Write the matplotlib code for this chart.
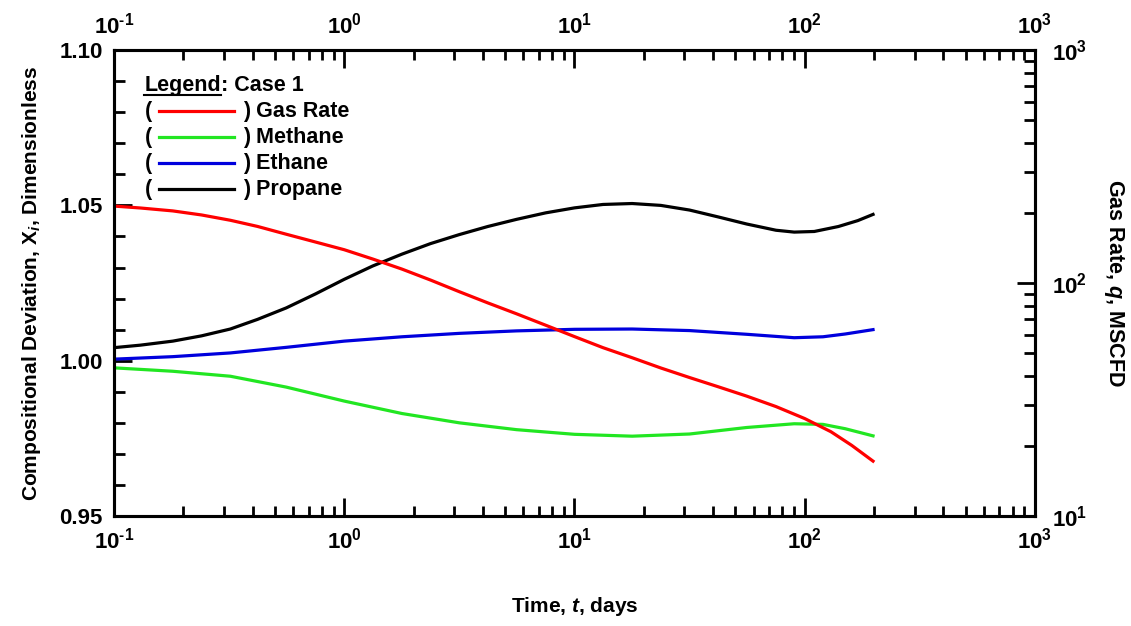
import math
import matplotlib
matplotlib.use("Agg")
import matplotlib.pyplot as plt
from matplotlib.ticker import LogLocator, MultipleLocator, FuncFormatter, NullFormatter
from matplotlib.lines import Line2D

plt.rcParams["font.family"] = ["Liberation Sans", "DejaVu Sans"]
plt.rcParams["font.weight"] = "bold"
plt.rcParams["mathtext.fontset"] = "custom"
plt.rcParams["mathtext.rm"] = "Liberation Sans:bold"
plt.rcParams["mathtext.bf"] = "Liberation Sans:bold"
plt.rcParams["mathtext.it"] = "Liberation Sans:bold:italic"

# gas rate, MSCFD (right axis)
t_rate = [0.1, 0.13, 0.18, 0.24, 0.32, 0.42, 0.56, 0.75, 1.0, 1.33, 1.78, 2.37, 3.16,
          4.2, 5.6, 7.5, 10, 13.3, 17.8, 23.7, 31.6, 42, 56, 75, 100, 130, 160, 198]
q_rate = [214, 210, 204, 196, 186, 175, 162, 150, 139, 126.8, 114.8, 103, 91.8,
          82.2, 73.8, 65.9, 58.9, 52.8, 47.8, 43.2, 39.3, 35.9, 32.7, 29.5, 26.2,
          23.0, 20.1, 17.2]

# compositional deviation (left axis)
t_prop = [0.1, 0.13, 0.18, 0.24, 0.32, 0.42, 0.56, 0.75, 1.0, 1.33, 1.78, 2.37, 3.16,
          4.2, 5.6, 7.5, 10, 13.3, 17.8, 23.7, 31.6, 42, 56, 75, 90, 110, 140, 170, 198]
x_prop = [1.0042, 1.0050, 1.0063, 1.0080, 1.0102, 1.0133, 1.0170, 1.0215, 1.0262,
          1.0305, 1.0343, 1.0377, 1.0406, 1.0432, 1.0455, 1.0476, 1.0492, 1.0503,
          1.0506, 1.0500, 1.0485, 1.0463, 1.0440, 1.0420, 1.0414, 1.0416, 1.0432,
          1.0451, 1.0471]

t_eth = [0.1, 0.18, 0.32, 0.56, 1.0, 1.78, 3.16, 5.6, 10, 17.8, 31.6, 56, 90, 120,
         150, 198]
x_eth = [1.0005, 1.0013, 1.0025, 1.0043, 1.0063, 1.0077, 1.0088, 1.0096, 1.0101,
         1.0102, 1.0097, 1.0085, 1.0074, 1.0077, 1.0086, 1.0100]

t_meth = [0.1, 0.18, 0.32, 0.56, 1.0, 1.78, 3.16, 5.6, 10, 17.8, 31.6, 56, 90, 120,
          150, 198]
x_meth = [0.9977, 0.9966, 0.9950, 0.9915, 0.9870, 0.9830, 0.9800, 0.9778, 0.9763,
          0.9757, 0.9764, 0.9785, 0.9797, 0.9795, 0.9781, 0.9758]

legend_rows = [("Gas Rate", "#ff0000"), ("Methane", "#22e622"),
               ("Ethane", "#0000dd"), ("Propane", "#000000")]

fig = plt.figure(figsize=(11.31, 6.26), dpi=100)
ax = fig.add_axes([0.1008, 0.1757, 0.8143, 0.7443])
ax2 = ax.twinx()

lw = 2.3
ax.plot(t_meth, x_meth, color="#22e622", lw=lw)
ax.plot(t_eth, x_eth, color="#0000dd", lw=lw)
ax.plot(t_prop, x_prop, color="#000000", lw=lw)
ax2.plot(t_rate, q_rate, color="#ff0000", lw=lw)

ax.set_xscale("log")
ax.set_xlim(0.1, 1000)
ax.set_ylim(0.95, 1.10)
ax2.set_yscale("log")
ax2.set_ylim(10, 1000)


def decade(v, pos):
    e = round(math.log10(v))
    return r"$10^{\text{%d}}$" % e


dec = FuncFormatter(decade)
ax.xaxis.set_major_locator(LogLocator(base=10, numticks=10))
ax.xaxis.set_minor_locator(LogLocator(base=10, subs=range(2, 10), numticks=20))
ax.xaxis.set_major_formatter(dec)
ax.xaxis.set_minor_formatter(NullFormatter())
ax.yaxis.set_major_locator(MultipleLocator(0.05))
ax.yaxis.set_minor_locator(MultipleLocator(0.01))
ax.yaxis.set_major_formatter(FuncFormatter(lambda v, p: f"{v:.2f}"))
ax2.yaxis.set_major_locator(LogLocator(base=10, numticks=10))
ax2.yaxis.set_minor_locator(LogLocator(base=10, subs=range(2, 10), numticks=20))
ax2.yaxis.set_major_formatter(dec)
ax2.yaxis.set_minor_formatter(NullFormatter())

for a in (ax, ax2):
    for s in a.spines.values():
        s.set_linewidth(2.2)
ax.tick_params(which="both", direction="in", top=True, labeltop=True, width=2.0,
               labelsize=16, pad=8)
ax.tick_params(which="major", length=13)
ax.tick_params(which="minor", length=7)
ax.tick_params(axis="y", which="minor", length=8)
ax2.tick_params(which="both", direction="in", width=2.0, labelsize=16, pad=12)
ax2.tick_params(which="major", length=13)
ax2.tick_params(which="minor", length=8)

ax.set_xlabel(r"Time, $\mathit{t}$, days", fontsize=15, fontweight="bold", labelpad=30)
ax.set_ylabel(r"Compositional Deviation, X$_{\mathit{i}}$, Dimensionless",
              fontsize=15, fontweight="bold", labelpad=12)
ax2.set_ylabel(r"Gas Rate, $\mathit{q}$, MSCFD", fontsize=15.5, fontweight="bold",
               rotation=270, labelpad=28)

# hand-built legend block
fs = 15.5
x0, y0, dy = 0.033, 0.925, 0.056
hdr = ax.text(x0, y0, "Legend", transform=ax.transAxes, fontsize=fs,
              fontweight="bold", va="center")
fig.canvas.draw()
bb = hdr.get_window_extent().transformed(ax.transAxes.inverted())
ax.text(bb.x1, y0, ": Case 1", transform=ax.transAxes, fontsize=fs,
        fontweight="bold", va="center")
ax.add_line(Line2D([bb.x0, bb.x1], [bb.y0 + 0.002, bb.y0 + 0.002],
                   transform=ax.transAxes, color="black", lw=1.5))
for i, (name, col) in enumerate(legend_rows):
    yy = y0 - (i + 1) * dy
    ax.text(x0, yy, "(", transform=ax.transAxes, fontsize=fs, fontweight="bold",
            va="center")
    ax.add_line(Line2D([x0 + 0.016, x0 + 0.097], [yy, yy], transform=ax.transAxes,
                       color=col, lw=lw))
    ax.text(x0 + 0.107, yy, ") " + name, transform=ax.transAxes, fontsize=fs,
            fontweight="bold", va="center")

fig.savefig("out.png", dpi=100)
